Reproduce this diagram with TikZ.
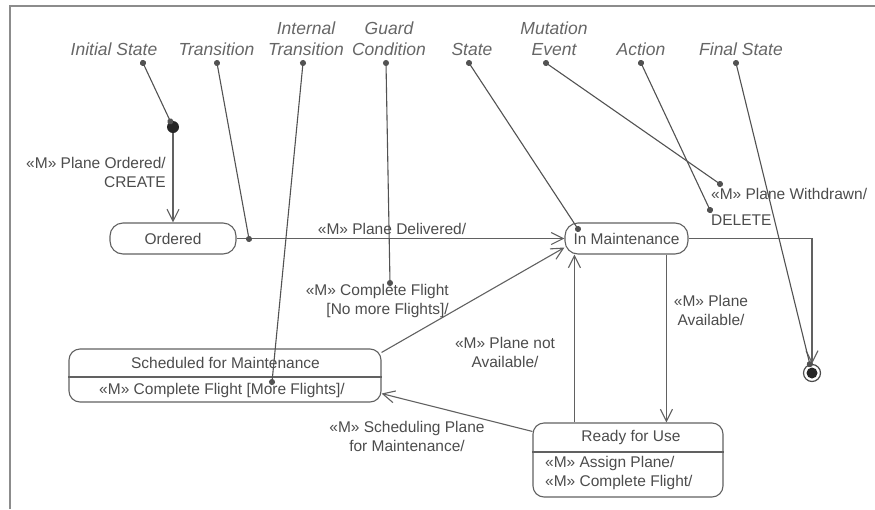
\documentclass[tikz,border=0pt]{standalone}
\usepackage{fontspec}
\setmainfont{Liberation Sans}
\usetikzlibrary{arrows.meta}
\begin{document}
\begin{tikzpicture}[x=1pt,y=-1pt,
  statebox/.style={draw=black!62, line width=1.1pt, rounded corners=11pt, inner sep=0pt,
    text=black!70, font=\fontsize{15.5}{19}\selectfont},
  body/.style={text=black!70, font=\fontsize{15.5}{19}\selectfont, inner sep=0pt},
  tag/.style={text=black!60, font=\fontsize{17.5}{21}\selectfont\itshape, inner sep=0pt, anchor=base},
  trans/.style={draw=black!62, line width=1.1pt, -{Straight Barb[length=12pt,width=12pt]}},
  pointer/.style={draw=black!68, line width=1.1pt, {Circle[length=6pt]}-{Circle[length=6pt]},
    shorten <=-3pt, shorten >=-3pt},
]
\useasboundingbox (0,0) rectangle (875,509);
% page frame
\draw[black!45, line width=2pt] (10,509) -- (10,6) -- (875,6);

% states
\node[statebox, minimum width=126pt, minimum height=31pt, rounded corners=13pt] (ordered) at (173,238.5) {Ordered};
\node[statebox, minimum width=123pt, minimum height=31pt, rounded corners=13pt] (inmaint) at (626.5,238.5) {In Maintenance};

\node[statebox, minimum width=312pt, minimum height=53pt] (sched) at (225,375.5) {};
\draw[black!62, line width=1.1pt] ([yshift=-1.5pt]sched.west) -- ([yshift=-1.5pt]sched.east);
\node[body] (schedname) at (225.5,363) {Scheduled for Maintenance};
\node[body] (schedact) at (222,390.5) {«M» Complete Flight [More Flights]/};

\node[statebox, minimum width=190pt, minimum height=74pt] (ready) at (628,460) {};
\draw[black!62, line width=1.1pt] ([yshift=8pt]ready.west) -- ([yshift=8pt]ready.east);
\node[body] (readyname) at (631,437.5) {Ready for Use};
\node[body, anchor=west, align=left] (readyact) at (545,472.5) {«M» Assign Plane/\\«M» Complete Flight/};

% pseudo states
\node[circle, fill=black!85, minimum size=12pt, inner sep=0pt] (init) at (173,127) {};
\node[circle, draw=black!70, line width=1.2pt, minimum size=17pt, inner sep=0pt] (final) at (812,373) {};
\fill[black!85] (final.center) circle (5.5pt);

% transitions
\draw[trans] (init) -- (ordered.north);
\draw[trans] (ordered.east) -- (inmaint.west);
\draw[trans] ([yshift=-4pt]sched.north east) -- ([yshift=-9pt]inmaint.west);
\draw[trans] ([xshift=42pt]ready.north west) -- ([xshift=10pt]inmaint.south west);
\draw[trans] ([xshift=102pt]inmaint.south west) -- ([xshift=134pt]ready.north west);
\draw[trans] ([yshift=-9pt]ready.north west) -- ([yshift=9pt]sched.south east);
\draw[trans] (inmaint.east) -| (final.north);

% transition labels
\node[body, align=right, anchor=east] (lblorder) at (166,172.5) {«M» Plane Ordered/\\CREATE};
\node[body] (lbldeliv) at (392,228.5) {«M» Plane Delivered/};
\node[body, align=right, anchor=east] (lblnomore) at (449,300.5) {«M» Complete Flight\\{[}No more Flights{]}/};
\node[body, align=center] (lblnotavail) at (505,352.5) {«M» Plane not\\Available/};
\node[body, align=center] (lblavail) at (711,310.5) {«M» Plane\\Available/};
\node[body, align=center] (lblsched) at (407,436) {«M» Scheduling Plane\\for Maintenance/};
\node[body, align=left, anchor=west] (lblwithdraw) at (711,207) {«M» Plane Withdrawn/\\[7pt]DELETE};

% notation callouts
\node[tag] (tInitial) at (114,55) {Initial State};
\node[tag] (tTrans) at (216.5,55) {Transition};
\node[tag, align=center] (tInternal) at (306,55) {Internal\\Transition};
\node[tag, align=center] (tGuard) at (389,55) {Guard\\Condition};
\node[tag] (tState) at (472,55) {State};
\node[tag, align=center] (tMut) at (554,55) {Mutation\\Event};
\node[tag] (tAction) at (641,55) {Action};
\node[tag] (tFinal) at (741,55) {Final State};

\coordinate (dInitial) at (143,63);
\coordinate (dTrans) at (217,63);
\coordinate (dInternal) at (303,63);
\coordinate (dGuard) at (386,63);
\coordinate (dState) at (469,63);
\coordinate (dMut) at (546,63);
\coordinate (dAction) at (641,63);
\coordinate (dFinal) at (736,63);

\coordinate (pTrans) at (249,239);
\coordinate (pInternal) at (272,382);
\coordinate (pGuard) at (390,283);
\coordinate (pState) at (578,229);
\coordinate (pMut) at (720,184);
\coordinate (pAction) at (710,210);

\draw[pointer] (dInitial) -- (init);
\draw[pointer] (dTrans) -- (pTrans);
\draw[pointer] (dInternal) -- (pInternal);
\draw[pointer] (dGuard) -- (pGuard);
\draw[pointer] (dState) -- (pState);
\draw[pointer] (dMut) -- (pMut);
\draw[pointer] (dAction) -- (pAction);
\draw[pointer] (dFinal) -- (final);
\end{tikzpicture}
\end{document}
